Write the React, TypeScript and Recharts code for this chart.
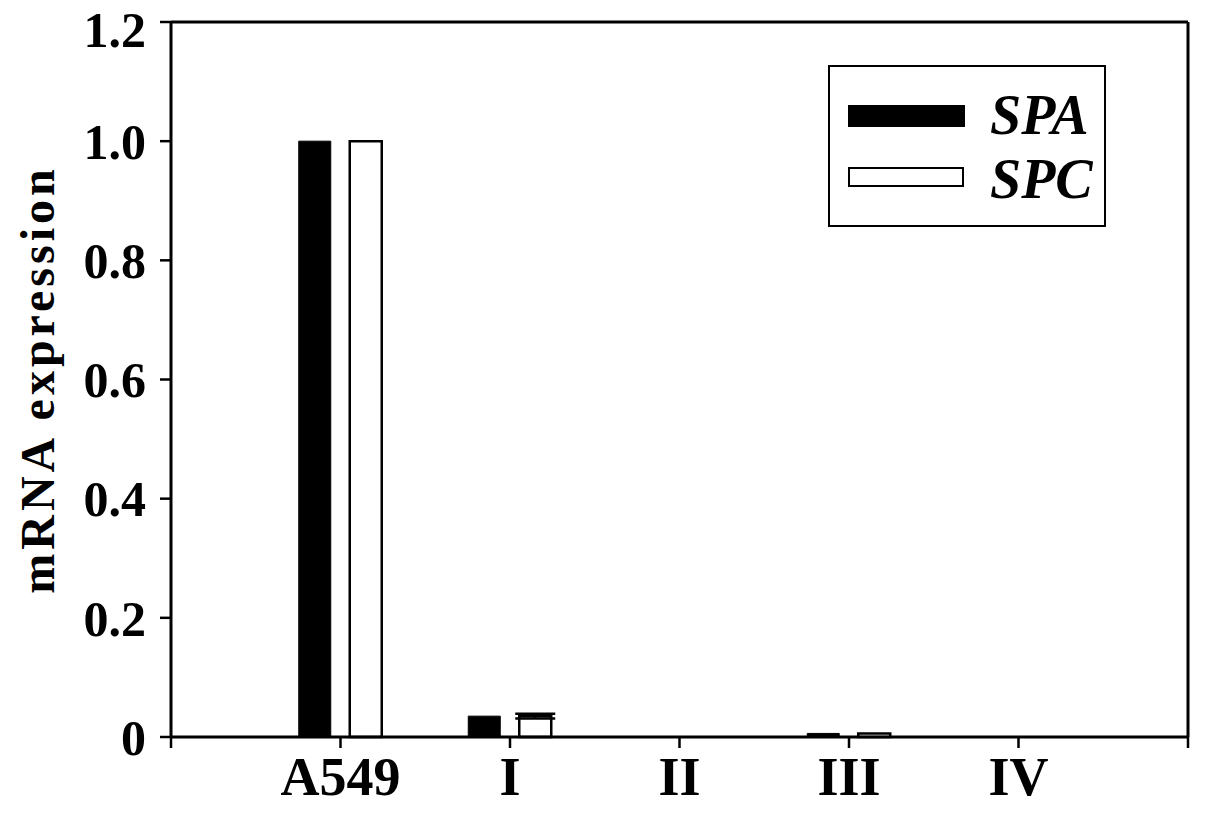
import React from "react";
import { BarChart, Bar, XAxis, YAxis, ReferenceLine, ErrorBar } from "recharts";

const categories = ["", "A549", "I", "II", "III", "IV", ""];
const spaValues = [null, 1.0, 0.035, 0, 0.006, 0, null];
const spcValues = [null, 1.0, 0.035, 0, 0.006, 0, null];
const spcErrors = [0, 0, 0.004, 0, 0, 0, 0];
const yTicks = [0, 0.2, 0.4, 0.6, 0.8, 1.0, 1.2];
const yTickLabels = ["0", "0.2", "0.4", "0.6", "0.8", "1.0", "1.2"];
const xTicks = categories.map((_, i) => i);

const data = categories.map((c, i) => ({
  pos: i,
  name: c,
  SPA: spaValues[i],
  SPC: spcValues[i],
  spcErr: spcErrors[i],
}));

const FONT = "'Liberation Serif', 'Times New Roman', serif";

const LegendBox = () => (
  <div
    style={{
      position: "absolute",
      left: 828,
      top: 65,
      width: 274,
      height: 158,
      border: "2px solid #000",
      background: "#fff",
      fontFamily: FONT,
    }}
  >
    <div style={{ position: "absolute", left: 18, top: 38, width: 117, height: 22, background: "#000" }} />
    <div
      style={{
        position: "absolute",
        left: 18,
        top: 100,
        width: 112,
        height: 16,
        background: "#fff",
        border: "2px solid #000",
      }}
    />
    <div
      style={{
        position: "absolute",
        left: 160,
        top: 18,
        fontSize: 56,
        fontWeight: "bold",
        fontStyle: "italic",
        lineHeight: "60px",
      }}
    >
      SPA
    </div>
    <div
      style={{
        position: "absolute",
        left: 160,
        top: 82,
        fontSize: 56,
        fontWeight: "bold",
        fontStyle: "italic",
        lineHeight: "60px",
      }}
    >
      SPC
    </div>
  </div>
);

export default function App() {
  return (
    <div style={{ position: "absolute", left: 0, top: 0, width: 1205, height: 820, background: "#fff" }}>
      <BarChart
        width={1205}
        height={820}
        data={data}
        margin={{ top: 22, right: 0, bottom: 0, left: 0 }}
        barSize={32}
        barGap={19}
      >
        <XAxis
          dataKey="pos"
          type="number"
          domain={[0, 6]}
          ticks={xTicks}
          interval={0}
          allowDecimals={false}
          height={83}
          axisLine={{ stroke: "#000", strokeWidth: 3 }}
          tickLine={{ stroke: "#000", strokeWidth: 2.5 }}
          tickSize={11}
          tickMargin={9}
          tickFormatter={(v: number) => categories[v] ?? ""}
          tick={{ fill: "#000", fontFamily: FONT, fontWeight: "bold", fontSize: 54 }}
        />
        <YAxis
          yAxisId="l"
          domain={[0, 1.2]}
          ticks={yTicks}
          width={171}
          axisLine={{ stroke: "#000", strokeWidth: 3 }}
          tickLine={{ stroke: "#000", strokeWidth: 2.5 }}
          tickSize={11}
          tickMargin={14}
          tickFormatter={(v: number) => yTickLabels[yTicks.indexOf(v)] ?? String(v)}
          tick={{ fill: "#000", fontFamily: FONT, fontWeight: "bold", fontSize: 50 }}
          label={{
            value: "mRNA  expression",
            angle: -90,
            position: "insideLeft",
            offset: 0,
            dx: 37,
            style: {
              fill: "#000",
              fontFamily: FONT,
              fontWeight: "bold",
              fontSize: 48,
              letterSpacing: 4,
              textAnchor: "middle",
            },
          }}
        />
        <YAxis
          yAxisId="r"
          orientation="right"
          domain={[0, 1.2]}
          width={17}
          tick={false}
          tickLine={false}
          axisLine={{ stroke: "#000", strokeWidth: 3 }}
        />
        <ReferenceLine yAxisId="l" y={1.2} stroke="#000" strokeWidth={3} ifOverflow="visible" />
        <Bar yAxisId="l" dataKey="SPA" fill="#000" stroke="#000" strokeWidth={1} isAnimationActive={false} />
        <Bar yAxisId="l" dataKey="SPC" fill="#fff" stroke="#000" strokeWidth={2.5} isAnimationActive={false}>
          <ErrorBar dataKey="spcErr" width={20} stroke="#000" strokeWidth={2.5} direction="y" />
        </Bar>
      </BarChart>
      <LegendBox />
    </div>
  );
}
